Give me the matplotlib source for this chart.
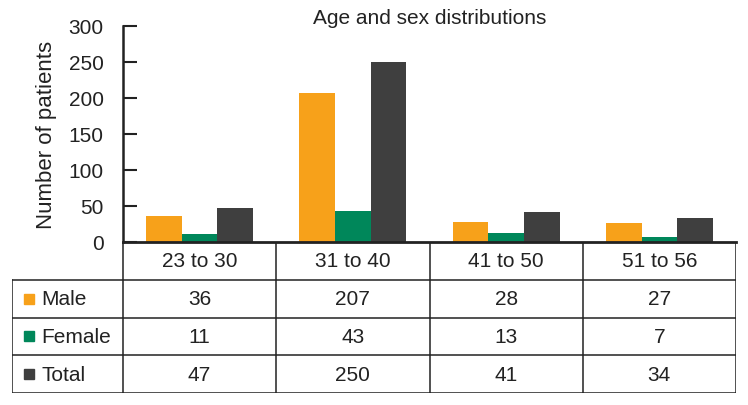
import numpy as np
import matplotlib.pyplot as plt
from matplotlib.lines import Line2D

plt.rcParams['font.family'] = ['Liberation Sans', 'DejaVu Sans']

age_groups = ["23 to 30", "31 to 40", "41 to 50", "51 to 56"]
series_names = ["Male", "Female", "Total"]
male = [36, 207, 28, 27]
female = [11, 43, 13, 7]
total = [47, 250, 41, 34]
colors = ["#F7A11A", "#00875A", "#3F3F3F"]
yticks = [0, 50, 100, 150, 200, 250, 300]

W, H = 748, 406
fig = plt.figure(figsize=(W / 100, H / 100), dpi=100)

# pixel layout
ax_l, ax_r, ax_t, ax_b = 123, 736, 27, 243
tab_l, tab_b = 12, 394
fs = 15
tc = '#222222'

ax = fig.add_axes([ax_l / W, 1 - ax_b / H, (ax_r - ax_l) / W, (ax_b - ax_t) / H])
x = np.arange(len(age_groups))
bw = 0.233
for i, vals in enumerate([male, female, total]):
    ax.bar(x + (i - 1) * bw, vals, width=bw, color=colors[i], label=series_names[i])

ax.set_xlim(-0.5, len(age_groups) - 0.5)
ax.set_ylim(0, 300)
ax.set_yticks(yticks)
ax.set_xticks([])
ax.tick_params(axis='y', direction='in', length=10, width=1.5, labelsize=fs, pad=14, colors=tc)
for s in ['top', 'right']:
    ax.spines[s].set_visible(False)
ax.spines['left'].set_linewidth(1.8)
ax.spines['bottom'].set_linewidth(2)
ax.spines['left'].set_color(tc)
ax.spines['bottom'].set_color(tc)
ax.set_ylabel("Number of patients", fontsize=16, color=tc, labelpad=8)
fig.text((ax_l + ax_r) / 2 / W, 1 - 19 / H, "Age and sex distributions",
         ha='center', va='center', fontsize=fs, color=tc)

# table below the chart
tax = fig.add_axes([tab_l / W, 1 - tab_b / H, (ax_r - tab_l) / W, (tab_b - ax_b) / H])
unit = (ax_r - ax_l) / len(age_groups)
x0 = -0.5 - (ax_l - tab_l) / unit
tax.set_xlim(x0, len(age_groups) - 0.5)
tax.set_ylim(4, 0)
tax.axis('off')
lc = tc
lw = 1.1
# horizontal lines
for r in range(1, 5):
    tax.add_line(Line2D([x0, len(age_groups) - 0.5], [r, r], color=lc, lw=lw))
# vertical lines
for c in range(len(age_groups) + 1):
    tax.add_line(Line2D([c - 0.5, c - 0.5], [0, 4], color=lc, lw=lw))
tax.add_line(Line2D([x0, x0], [1, 4], color=lc, lw=lw))

for j, g in enumerate(age_groups):
    tax.text(j, 0.5, g, ha='center', va='center', fontsize=fs, color=tc)
for r, (name, vals) in enumerate(zip(series_names, [male, female, total])):
    y = r + 1.5
    tax.plot([x0 + 0.11], [y], marker='s', ms=7, color=colors[r], ls='none')
    tax.text(x0 + 0.19, y, name, ha='left', va='center', fontsize=fs, color=tc)
    for j, v in enumerate(vals):
        tax.text(j, y, str(v), ha='center', va='center', fontsize=fs, color=tc)

fig.savefig("out.png", dpi=100)
